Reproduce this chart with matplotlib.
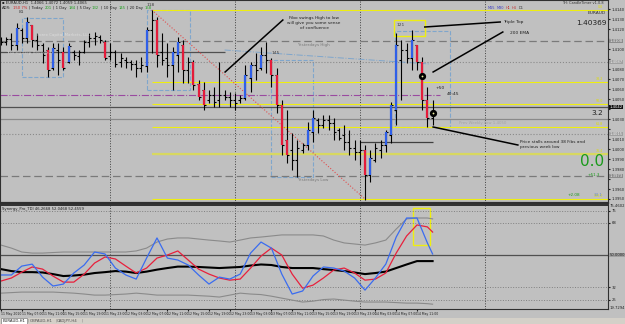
import numpy as np
import matplotlib.pyplot as plt
from matplotlib.patches import Rectangle
from matplotlib.transforms import blended_transform_factory

# EURAUD H1, bar 0 = 11 May 03:00, last bar = 14 May 14:00
bar_open = [1.4108, 1.4107, 1.4110, 1.4104, 1.4119, 1.4111, 1.4124, 1.4109, 1.4104, 1.4099,
            1.4081, 1.4099, 1.4097, 1.4087, 1.4097, 1.4093, 1.4097, 1.4107, 1.4111, 1.4112,
            1.4107, 1.4093, 1.4097, 1.4087, 1.4089, 1.4087, 1.4085, 1.4081, 1.4083, 1.4119,
            1.4129, 1.4097, 1.4091, 1.4084, 1.4094, 1.4104, 1.4079, 1.4087, 1.4065, 1.4059,
            1.4049, 1.4054, 1.4049, 1.4054, 1.4052, 1.4049, 1.4049, 1.4051, 1.4071, 1.4084,
            1.4081, 1.4094, 1.4089, 1.4074, 1.4044, 1.4009, 1.3999, 1.3989, 1.3999, 1.4004,
            1.4017, 1.4029, 1.4024, 1.4029, 1.4026, 1.4019, 1.4014, 1.4007, 1.4001, 1.3997,
            1.3999, 1.3974, 1.3989, 1.3999, 1.4004, 1.4014, 1.4039, 1.4089, 1.4099, 1.4091,
            1.4104, 1.4087, 1.4049, 1.4031]
bar_high = [1.4112, 1.4112, 1.4116, 1.4126, 1.4121, 1.4132, 1.4124, 1.4116, 1.4106, 1.4102,
            1.4106, 1.4106, 1.4102, 1.4106, 1.4099, 1.4099, 1.4109, 1.4116, 1.4117, 1.4114,
            1.4109, 1.4106, 1.4099, 1.4096, 1.4092, 1.4089, 1.4089, 1.4092, 1.4122, 1.4139,
            1.4132, 1.4116, 1.4106, 1.4102, 1.4112, 1.4109, 1.4092, 1.4089, 1.4069, 1.4067,
            1.4059, 1.4062, 1.4087, 1.4059, 1.4057, 1.4056, 1.4054, 1.4084, 1.4087, 1.4096,
            1.4102, 1.4107, 1.4091, 1.4081, 1.4049, 1.4039, 1.4016, 1.4009, 1.4006, 1.4027,
            1.4039, 1.4031, 1.4034, 1.4034, 1.4031, 1.4021, 1.4024, 1.4019, 1.4009, 1.4009,
            1.4004, 1.3999, 1.4006, 1.4009, 1.4019, 1.4047, 1.4116, 1.4109, 1.4106, 1.4119,
            1.4104, 1.4092, 1.4062, 1.4049]
bar_low = [1.4104, 1.4104, 1.4099, 1.4099, 1.4106, 1.4106, 1.4102, 1.4099, 1.4086, 1.4072,
           1.4079, 1.4074, 1.4079, 1.4086, 1.4089, 1.4084, 1.4096, 1.4102, 1.4104, 1.4106,
           1.4089, 1.4089, 1.4082, 1.4082, 1.4081, 1.4079, 1.4072, 1.4077, 1.4077, 1.4096,
           1.4082, 1.4084, 1.4072, 1.4059, 1.4077, 1.4066, 1.4066, 1.4059, 1.4049, 1.4039,
           1.4046, 1.4042, 1.4042, 1.4049, 1.4042, 1.4039, 1.4046, 1.4049, 1.4057, 1.4069,
           1.4079, 1.4076, 1.4062, 1.4036, 1.3994, 1.3986, 1.3979, 1.3972, 1.3996, 1.3999,
           1.4007, 1.4016, 1.4021, 1.4019, 1.4009, 1.4009, 1.3999, 1.3994, 1.3989, 1.3984,
           1.3949, 1.3967, 1.3987, 1.3991, 1.3997, 1.4006, 1.4024, 1.4049, 1.4086, 1.4079,
           1.4079, 1.4039, 1.4022, 1.4024]
bar_close = [1.4107, 1.4110, 1.4104, 1.4121, 1.4111, 1.4127, 1.4109, 1.4104, 1.4094, 1.4079,
             1.4101, 1.4089, 1.4081, 1.4103, 1.4094, 1.4097, 1.4107, 1.4111, 1.4113, 1.4109,
             1.4091, 1.4097, 1.4085, 1.4091, 1.4087, 1.4085, 1.4081, 1.4084, 1.4119, 1.4129,
             1.4094, 1.4089, 1.4084, 1.4097, 1.4107, 1.4079, 1.4087, 1.4064, 1.4052, 1.4044,
             1.4054, 1.4047, 1.4054, 1.4052, 1.4049, 1.4046, 1.4051, 1.4074, 1.4084, 1.4079,
             1.4094, 1.4089, 1.4074, 1.4044, 1.4004, 1.3994, 1.3989, 1.4001, 1.4004, 1.4019,
             1.4031, 1.4024, 1.4029, 1.4026, 1.4017, 1.4011, 1.4007, 1.4001, 1.3997, 1.3999,
             1.3974, 1.3991, 1.4001, 1.4004, 1.4017, 1.4044, 1.4104, 1.4099, 1.4091, 1.4109,
             1.4087, 1.4049, 1.4031, 1.4036]

# fibo drawn from the 118 high (bar 29) to the low (bar 70)
fib_from, fib_to = 29, 70
fib_levels = [1.4139, 1.4067, 1.4045, 1.4022, 1.3995, 1.3950]
fib_names = ["0.0", "38.2", "50.0", "61.8", "76.4", "100.0"]
yest_high, yest_low = 1.4108, 1.3973
prev_week_low = 1.4007
pivot_line = 1.4097
bid_line, ask_line = 1.4042, 1.4030
dotted_levels = [1.4087, 1.4015]
purple_level = 1.4054
day_starts = [21, 45, 69, 93]
scale_marks = [yest_high, 1.4087, bid_line, 1.4015, yest_low]

swing_labels = [(4, 1.4135, "81"), (28.7, 1.4142, "118"), (52.9, 1.4094, "145"), (76.8, 1.4122, "121")]
fibo_boxes = [(4, 12, 1.4072, 1.4131), (28, 36.4, 1.4059, 1.4139),
              (52, 60, 1.3972, 1.4089), (75.8, 86.3, 1.4022, 1.4118)]
markers = [(81, 1.4073), (83, 1.4036)]

# Synergy TDI, sampled every 2 bars
osc_bars = list(range(0, 84, 2)) + [83]
tdi_price = [38.8, 38.8, 43.8, 44.9, 37.6, 32.6, 33.7, 39.9, 44.4, 51.7,
             50.6, 42.7, 38.8, 36.5, 48.3, 59.6, 48.3, 47.2, 44.4, 38.8,
             33.7, 37.6, 36.5, 39.3, 51.1, 57.3, 53.9, 39.3, 28.1, 29.8,
             38.2, 43.3, 42.7, 41.0, 37.1, 30.3, 37.1, 44.9, 60.1, 70.8,
             70.8, 56.8, 50.6]
tdi_signal = [35.4, 37.1, 40.4, 43.3, 42.1, 38.2, 34.8, 34.8, 39.3, 45.5,
              48.9, 47.8, 43.8, 39.9, 42.7, 48.3, 50.0, 52.3, 47.2, 42.1,
              39.3, 37.1, 35.9, 36.5, 42.7, 49.4, 53.9, 50.0, 39.3, 31.4,
              33.1, 37.1, 41.6, 42.7, 39.9, 35.9, 36.5, 39.9, 51.1, 60.7,
              66.9, 65.8, 62.9]
tdi_base = [42.1, 41.0, 40.4, 40.4, 40.2, 39.3, 38.2, 38.5, 39.0, 39.9,
            40.4, 41.0, 40.7, 39.9, 40.7, 41.8, 42.7, 43.5, 43.5, 43.3,
            43.0, 42.7, 43.0, 43.3, 44.1, 44.7, 44.4, 43.3, 42.7, 42.7,
            42.7, 42.1, 41.6, 41.0, 40.2, 39.3, 39.9, 40.7, 42.7, 44.7,
            46.6, 46.6, 46.6]
tdi_upper = [55.6, 53.9, 51.7, 51.1, 51.1, 51.4, 51.7, 51.7, 51.7, 51.7,
             51.7, 51.7, 51.7, 52.3, 53.9, 57.3, 59.0, 59.6, 59.6, 59.0,
             58.4, 57.9, 57.3, 58.4, 59.6, 60.1, 60.7, 61.3, 61.3, 61.3,
             61.3, 60.7, 58.4, 56.8, 56.2, 55.6, 56.8, 58.4, 64.6, 70.3,
             70.8, 70.8, 70.3]
tdi_lower = [28.6, 28.9, 29.2, 29.2, 29.2, 29.2, 28.9, 28.6, 28.1, 27.5,
             27.5, 27.8, 28.1, 28.6, 28.1, 27.5, 27.5, 27.5, 27.5, 27.2,
             26.9, 26.4, 27.5, 28.6, 28.1, 27.8, 26.9, 25.8, 24.7, 23.6,
             24.1, 25.0, 25.3, 24.7, 24.1, 23.6, 23.6, 23.6, 23.3, 23.0,
             23.0, 22.7, 22.4]
tdi_levels = [75, 68, 32, 25]

time_ticks = list(range(0, 84, 4))
time_labels = ["11 May 2010", "11 May 07:00", "11 May 11:00", "11 May 15:00", "11 May 19:00",
               "11 May 23:00", "12 May 03:00", "12 May 07:00", "12 May 11:00", "12 May 15:00",
               "12 May 19:00", "12 May 23:00", "13 May 03:00", "13 May 07:00", "13 May 11:00",
               "13 May 15:00", "13 May 19:00", "13 May 23:00", "14 May 03:00", "14 May 07:00",
               "14 May 11:00"]
tabs = ["EURAUD,H1", "GBPAUD,H1", "CADJPY,H4"]

W, H = 625, 324
BG = '#c0c0c0'
YEL = '#eeee10'
SCALE_FS = 2.7
fig = plt.figure(figsize=(6.25, 3.24), dpi=100)
fig.patch.set_facecolor(BG)


def px_axes(x0, y0, x1, y1):
    return fig.add_axes([x0 / W, 1 - y1 / H, (x1 - x0) / W, (y1 - y0) / H])


def scale_label(v, pos):
    # the boxed labels take the place of plain ticks close to them
    if min(abs(v - m) for m in scale_marks) < 0.0005:
        return ""
    return f"{v:.4f}"


XLIM = (-0.19, 116.73)

# ---------------- price panel ----------------
ax = px_axes(0, 0, 608, 203)
ax.set_facecolor(BG)
ax.set_xlim(*XLIM)
ax.set_ylim(1.3946, 1.4149)
ax.set_xticks([])
ax.yaxis.tick_right()
ax.set_yticks(np.arange(1.3950, 1.4145, 0.0010))
ax.yaxis.set_major_formatter(plt.FuncFormatter(scale_label))
ax.tick_params(axis='y', labelsize=SCALE_FS, pad=1, length=1.5, colors='#202020')
for s in ax.spines.values():
    s.set_color('#303030')
    s.set_linewidth(0.8)
ax.spines['bottom'].set_linewidth(1.6)
tr_r = blended_transform_factory(ax.transAxes, ax.transData)

for d in day_starts:
    ax.axvline(d, color='#404040', ls=':', lw=0.7)

ax.axhline(yest_high, color='#7a7a7a', ls=(0, (6, 3)), lw=0.9)
ax.axhline(yest_low, color='#7a7a7a', ls=(0, (6, 3)), lw=0.9)
ax.axhline(bid_line, color='#505050', lw=0.9)
ax.axhline(ask_line, color='#8a8a8a', lw=0.9)
for lv in dotted_levels:
    ax.axhline(lv, color='#8a8a8a', ls=':', lw=0.8)
ax.hlines(pivot_line, XLIM[0], 43, color='#505050', lw=0.9)
ax.hlines(prev_week_low, 69, 83, color='#404040', lw=0.9)
ax.hlines(purple_level, XLIM[0], 84.5, color='#9a4aa0', ls='-.', lw=0.8)
ax.plot([43, 82.5], [1.4099, 1.4085], color='#7fa6cc', ls='-.', lw=0.7)

ax.hlines(fib_levels, fib_from, XLIM[1], color=YEL, lw=0.8)
ax.hlines(fib_levels[4], fib_from, XLIM[1], color='#d8d860', lw=1.6)
for lv, nm in zip(fib_levels, fib_names):
    ax.text(115.8, lv + 0.0001, nm, fontsize=2.3, color='#e0e000', ha='right', va='bottom')
ax.plot([fib_from, fib_to], [fib_levels[0], fib_levels[-1]], color='#e05050', ls=':', lw=0.8)

for x0, x1, y0, y1 in fibo_boxes:
    ax.add_patch(Rectangle((x0, y0), x1 - x0, y1 - y0, fill=False, ec='#7fa6cc', ls='--', lw=0.8))

# bars
idx = np.arange(len(bar_close))
o, hi, lo, c = map(np.array, (bar_open, bar_high, bar_low, bar_close))
ax.vlines(idx, lo, hi, color='black', lw=0.8)
ax.hlines(o, idx - 0.4, idx, color='black', lw=0.8)
ax.hlines(c, idx, idx + 0.4, color='black', lw=0.8)
big = np.abs(c - o) >= 0.0012
up, dn = big & (c > o), big & (c < o)
ax.vlines(idx[up], o[up], c[up], color='#2f5fe8', lw=1.6)
ax.vlines(idx[dn], c[dn], o[dn], color='#e41b3a', lw=1.6)

for x, y, s in swing_labels:
    ax.text(x, y, s, fontsize=3.2, color='#404040', ha='center', va='bottom')
ax.add_patch(Rectangle((75.6, 1.4113), 5.9, 0.0016, fill=False, ec=YEL, lw=1.0))
for x, y in markers:
    ax.plot(x, y, 'o', ms=4.2, mfc='black', mec='black')
    ax.plot(x, y, 'o', ms=1.3, mfc='#f0f0a0', mec='none')

ax.text(60, 1.4106, "Yesterdays High", fontsize=3.0, color='#7a7a7a', ha='center', va='top')
ax.text(60, 1.3971, "Yesterdays Low", fontsize=3.0, color='#7a7a7a', ha='center', va='top')
ax.text(88, 1.4026, "Prev Weekly Low 1.4050", fontsize=2.8, color='#a4a4a4', ha='left', va='center')
ax.text(83.6, 1.4061, "+50", fontsize=3.2, color='#202020', ha='left', va='center')
ax.text(85.8, 1.4055, "40:45", fontsize=3.2, color='#202020', ha='left', va='center')

# annotations
ax.plot([43.1, 54.2], [1.4077, 1.4129], color='black', lw=1.1)
ax.text(60.2, 1.4133, "Fibo swings High to low\nwill give you some sense\nof confluence",
        fontsize=3.1, color='#202020', ha='center', va='top', linespacing=1.3)
ax.plot([81.5, 96], [1.4122, 1.4127], color='black', lw=1.1)
ax.text(96.5, 1.4127, "Triple Top", fontsize=3.2, color='#202020', ha='left', va='center')
ax.plot([83.1, 96.5], [1.4077, 1.4117], color='black', lw=1.1)
ax.text(97.8, 1.4116, "200 EMA", fontsize=3.2, color='#202020', ha='left', va='center')
ax.plot([83.1, 99.4], [1.4022, 1.4004], color='black', lw=1.1)
ax.text(99.8, 1.4009, "Price stalls around 38 Fibs and\nprevious week low",
        fontsize=3.1, color='#202020', ha='left', va='top', linespacing=1.4)

# right side info
ax.text(116.3, 1.4136, "EURAUD", fontsize=3.2, color='#303030', ha='right', va='center')
ax.text(116.4, 1.4126, "1.40369", fontsize=5.3, color='#202020', ha='right', va='center')
ax.text(115.8, 1.4036, "3.2", fontsize=5.3, color='#202020', ha='right', va='center')
ax.text(116.0, 1.3988, "0.0", fontsize=11, color='#1a9a1a', ha='right', va='center')
ax.text(115.2, 1.3974, "+51.3", fontsize=3.0, color='#1a9a1a', ha='right', va='center')
ax.text(111.3, 1.3954, "+2.08", fontsize=3.0, color='#1a9a1a', ha='right', va='center')
ax.text(115.8, 1.3954, "33.1", fontsize=3.0, color='#6a8ad8', ha='right', va='center')
ax.text(115.8, 1.4146, "TH: CandleTimer v1.0.8", fontsize=2.5, color='#303030', ha='right', va='center')
t = ax.text(93.5, 1.4141, "M15", fontsize=2.5, color='#4040c0', va='center')
for s, col in [("M30", '#4040c0'), ("H1", '#c03030'), ("H4", '#c03030'), ("D1", '#303030')]:
    t = ax.annotate(s, xy=(1, 0), xycoords=t, xytext=(1.2, 0), textcoords='offset points',
                    fontsize=2.5, color=col, va='bottom')

# boxed price labels on the scale
for lv, fc, col in zip(scale_marks, ['#8c8c8c', '#a0a0a0', '#101010', '#a0a0a0', '#8c8c8c'],
                       ['#f0f0f0', '#f0f0f0', 'white', '#f0f0f0', '#f0f0f0']):
    ax.text(1.003, lv, f"{lv:.4f}", transform=tr_r, fontsize=SCALE_FS, color=col, ha='left',
            va='center', bbox=dict(fc=fc, ec='none', pad=0.3), clip_on=False)

# header
ax.text(0.004, 0.985, "\u25aa EURAUD,H1  1.4066 1.4072 1.4059 1.4065", transform=ax.transAxes,
        fontsize=2.7, color='#202020', va='center')
t = ax.text(0.004, 0.962, "ADR:", transform=ax.transAxes, fontsize=2.7, color='#202020', va='center')
for s, col in [("150 7%", '#d02020'), ("| Today", '#202020'), ("201", '#20a020'), ("| 1 Day", '#202020'),
               ("184", '#20a020'), ("| 5 Day", '#202020'), ("132", '#20a020'), ("| 10 Day", '#202020'),
               ("145", '#20a020'), ("| 20 Day", '#202020'), ("158", '#20a020')]:
    t = ax.annotate(s, xy=(1, 0), xycoords=t, xytext=(1.1, 0), textcoords='offset points',
                    fontsize=2.7, color=col, va='bottom')
ax.text(7, 1.4114, "Forex Capital Markets, LLC", fontsize=2.9, color='#e8e8e8', alpha=0.7, va='center')
ax.text(1, 1.4096, "Trading Step (Inverted)", fontsize=2.9, color='#e8e8e8', alpha=0.7, va='center')

# ---------------- oscillator panel ----------------
ox = px_axes(0, 205, 608, 309)
ox.set_facecolor(BG)
ox.set_xlim(*XLIM)
ox.set_ylim(19.7, 78.1)
for s in ox.spines.values():
    s.set_color('#303030')
    s.set_linewidth(0.8)
ox.spines['top'].set_linewidth(1.4)
ox.yaxis.tick_right()
ox.set_yticks(tdi_levels)
ox.set_yticklabels([str(v) for v in tdi_levels])
ox.tick_params(axis='y', labelsize=SCALE_FS, pad=1, length=1.5, colors='#202020')
ox.set_xticks(time_ticks)
ox.set_xticklabels(time_labels, ha='left')
ox.tick_params(axis='x', labelsize=2.25, pad=0.8, length=1.5, colors='#202020')
tr_o = blended_transform_factory(ox.transAxes, ox.transData)

for d in day_starts:
    ox.axvline(d, color='#404040', ls=':', lw=0.7)
for lv in tdi_levels:
    ox.axhline(lv, color='#808080', ls=':', lw=0.7)
ox.axhline(50, color='#505050', lw=0.9)

ox.plot(osc_bars, tdi_upper, color='#8a8a8a', lw=0.8)
ox.plot(osc_bars, tdi_lower, color='#8a8a8a', lw=0.8)
ox.plot(osc_bars, tdi_base, color='black', lw=1.5)
ox.plot(osc_bars, tdi_signal, color='#e8203c', lw=0.9)
ox.plot(osc_bars, tdi_price, color='#3a6cf0', lw=0.9)
ox.add_patch(Rectangle((79.2, 55.6), 3.3, 20.8, fill=False, ec=YEL, lw=1.0))

ox.text(0.004, 77.0, "Synergy_Pro_TDI 46.2668 52.0468 52.4559", fontsize=2.7, color='#202020',
        transform=tr_o, va='top')
for lv, s, fc in [(77.6, "75.4602", None), (50, "50.0000", '#a0a0a0'), (20.3, "19.7294", None)]:
    kw = dict(bbox=dict(fc=fc, ec='none', pad=0.3)) if fc else {}
    ox.text(1.003, lv, s, transform=tr_o, fontsize=SCALE_FS, color='#202020', ha='left', va='center',
            clip_on=False, **kw)

# ---------------- tab strip ----------------
fig.add_artist(Rectangle((0, 0), 1, 6 / H, transform=fig.transFigure, fc='#d4d0c8', ec='none'))
fig.add_artist(Rectangle((1 / W, 0), 26 / W, 6 / H, transform=fig.transFigure, fc='white', ec='#808080', lw=0.5))
for i, name in enumerate(tabs):
    fig.text((3 + 27 * i) / W, 3 / H, name, fontsize=2.8, color='#202020' if i == 0 else '#505050', va='center')
    fig.text((28 + 27 * i) / W, 3 / H, "|", fontsize=2.8, color='#808080', va='center')

fig.savefig('out.png', dpi=100, facecolor=fig.get_facecolor())
